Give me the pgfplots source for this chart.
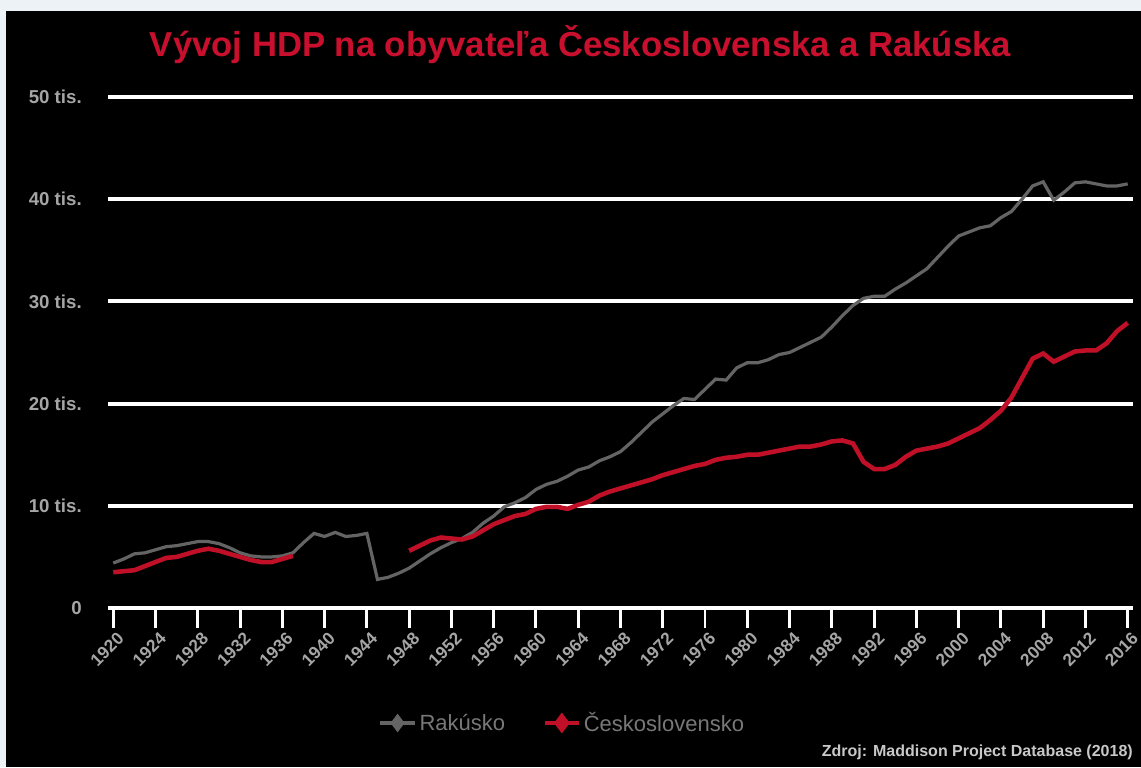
\documentclass[border=0pt]{standalone}
\usepackage{fontspec}
\setmainfont{Liberation Sans}
\usepackage{pgfplots}
\usepackage{pgfplotstable}
\pgfplotsset{compat=1.18}
\definecolor{bgl}{RGB}{237,242,247}
\definecolor{ttred}{RGB}{200,16,46}
\definecolor{atgrey}{RGB}{100,100,100}
\definecolor{czred}{RGB}{192,16,40}
\definecolor{lblgrey}{RGB}{165,165,165}
\definecolor{leggrey}{RGB}{120,120,120}
\definecolor{srcgrey}{RGB}{200,200,200}

\pgfplotstableread{
year val
1920 4.4
1921 4.8
1922 5.3
1923 5.4
1924 5.7
1925 6.0
1926 6.1
1927 6.3
1928 6.5
1929 6.5
1930 6.3
1931 5.9
1932 5.4
1933 5.1
1934 5.0
1935 5.0
1936 5.1
1937 5.4
1938 6.4
1939 7.3
1940 7.0
1941 7.4
1942 7.0
1943 7.1
1944 7.3
1945 2.8
1946 3.0
1947 3.4
1948 3.9
1949 4.6
1950 5.3
1951 5.9
1952 6.4
1953 6.8
1954 7.4
1955 8.3
1956 9.0
1957 9.9
1958 10.3
1959 10.8
1960 11.6
1961 12.1
1962 12.4
1963 12.9
1964 13.5
1965 13.8
1966 14.4
1967 14.8
1968 15.3
1969 16.2
1970 17.2
1971 18.2
1972 19.0
1973 19.8
1974 20.5
1975 20.4
1976 21.4
1977 22.4
1978 22.3
1979 23.5
1980 24.0
1981 24.0
1982 24.3
1983 24.8
1984 25.0
1985 25.5
1986 26.0
1987 26.5
1988 27.5
1989 28.6
1990 29.6
1991 30.3
1992 30.5
1993 30.5
1994 31.2
1995 31.8
1996 32.5
1997 33.2
1998 34.3
1999 35.4
2000 36.4
2001 36.8
2002 37.2
2003 37.4
2004 38.2
2005 38.8
2006 40.0
2007 41.3
2008 41.7
2009 39.9
2010 40.7
2011 41.6
2012 41.7
2013 41.5
2014 41.3
2015 41.3
2016 41.5
}\austria

\pgfplotstableread{
year val
1920 3.5
1921 3.6
1922 3.7
1923 4.1
1924 4.5
1925 4.9
1926 5.0
1927 5.3
1928 5.6
1929 5.8
1930 5.6
1931 5.3
1932 5.0
1933 4.7
1934 4.5
1935 4.5
1936 4.8
1937 5.1
1942 nan
1948 5.6
1949 6.1
1950 6.6
1951 6.9
1952 6.8
1953 6.7
1954 7.0
1955 7.6
1956 8.2
1957 8.6
1958 9.0
1959 9.2
1960 9.7
1961 9.9
1962 9.9
1963 9.7
1964 10.1
1965 10.4
1966 11.0
1967 11.4
1968 11.7
1969 12.0
1970 12.3
1971 12.6
1972 13.0
1973 13.3
1974 13.6
1975 13.9
1976 14.1
1977 14.5
1978 14.7
1979 14.8
1980 15.0
1981 15.0
1982 15.2
1983 15.4
1984 15.6
1985 15.8
1986 15.8
1987 16.0
1988 16.3
1989 16.4
1990 16.1
1991 14.3
1992 13.6
1993 13.6
1994 14.0
1995 14.8
1996 15.4
1997 15.6
1998 15.8
1999 16.1
2000 16.6
2001 17.1
2002 17.6
2003 18.4
2004 19.3
2005 20.6
2006 22.5
2007 24.4
2008 24.9
2009 24.1
2010 24.6
2011 25.1
2012 25.2
2013 25.2
2014 25.9
2015 27.1
2016 27.9
}\czech

\begin{document}
\begin{tikzpicture}
\fill[bgl] (0pt,0pt) rectangle (855.75pt,-575.25pt);
\fill[black] (4.5pt,-8.25pt) rectangle (855.75pt,-575.25pt);
\node[anchor=base, text=ttred, font=\fontsize{26}{30}\selectfont\bfseries, inner sep=0pt] at (435.4pt,-42.75pt) {Vývoj HDP na obyvateľa Československa a Rakúska};
\begin{axis}[
  at={(81pt,-456pt)}, anchor=south west,
  scale only axis, width=768.75pt, height=383.25pt,
  xmin=1919.5, xmax=2016.5, ymin=0, ymax=50,
  axis x line*=bottom, axis y line*=left,
  x axis line style={white, line width=2.2pt, -},
  y axis line style={draw=none},
  xtick={1920,1924,...,2016},
  ytick={0,10,20,30,40,50},
  yticklabels={0,10 tis.,20 tis.,30 tis.,40 tis.,50 tis.},
  ymajorgrids, major grid style={white, line width=3pt},
  tick align=outside,
  xtick style={white, line width=2.2pt},
  major tick length=15pt,
  ytick style={draw=none},
  xticklabel style={rotate=45, anchor=east, inner sep=0pt, yshift=-8pt, text=lblgrey, font=\fontsize{13}{13}\selectfont\bfseries, /pgf/number format/1000 sep={}, /pgf/number format/assume math mode=true},
  yticklabel style={anchor=east, inner sep=0pt, xshift=-4.5pt, text=lblgrey, font=\fontsize{14}{14}\selectfont\bfseries},
  unbounded coords=jump,
  legend style={at={(axis description cs:0.2634,-0.225)}, anchor=west, draw=none, fill=none, inner sep=0pt, font=\fontsize{16.5}{16.5}\selectfont, text=leggrey, /tikz/every even column/.append style={column sep=26pt}},
  legend columns=-1,
  legend image code/.code={\draw[#1, line width=3pt] (0pt,0pt) -- (26pt,0pt); \draw[#1, mark=diamond*, mark size=5pt, mark options={solid}] plot coordinates {(13pt,0pt)};},
]
\addplot[atgrey, line width=2.4pt, no marks] table[x=year, y=val] {\austria};
\addlegendentry{Rakúsko}
\addplot[czred, line width=3.4pt, no marks] table[x=year, y=val] {\czech};
\addlegendentry{Československo}
\end{axis}
\node[anchor=base east, text=srcgrey, font=\fontsize{12}{12}\selectfont\bfseries, inner sep=0pt] at (849.75pt,-567pt) {Zdroj: Maddison Project Database (2018)};
\end{tikzpicture}
\end{document}
